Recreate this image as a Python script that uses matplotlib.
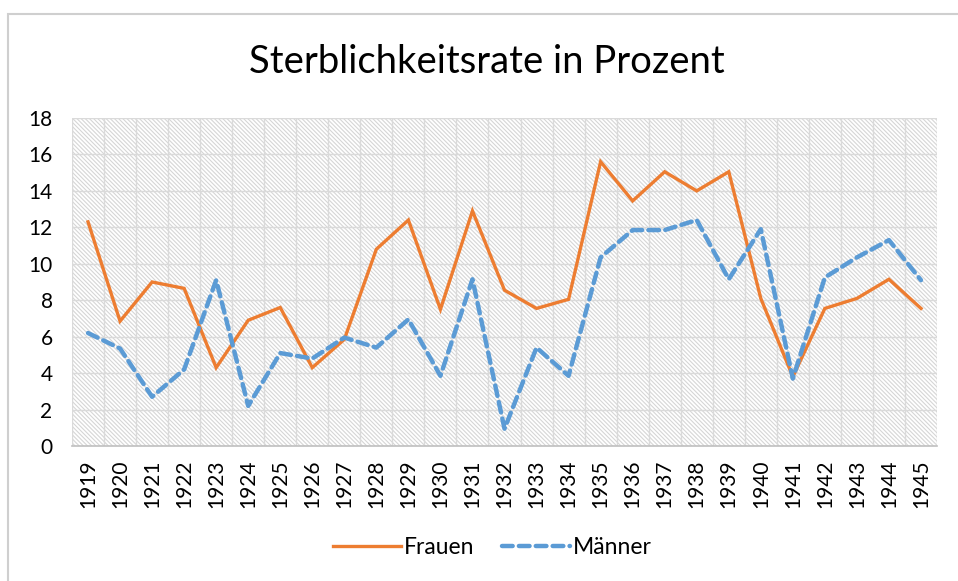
import matplotlib as mpl
import matplotlib.pyplot as plt
from matplotlib.patches import Rectangle

# Data
years = [1919, 1920, 1921, 1922, 1923, 1924, 1925, 1926, 1927, 1928, 1929,
         1930, 1931, 1932, 1933, 1934, 1935, 1936, 1937, 1938, 1939, 1940,
         1941, 1942, 1943, 1944, 1945]
frauen = [12.3, 6.85, 9.0, 8.65, 4.3, 6.9, 7.6, 4.3, 5.85, 10.8, 12.4,
          7.5, 12.9, 8.55, 7.55, 8.05, 15.6, 13.45, 15.05, 14.0, 15.05, 8.1,
          3.8, 7.55, 8.1, 9.15, 7.55]
maenner = [6.2, 5.35, 2.7, 4.2, 9.1, 2.2, 5.1, 4.8, 5.95, 5.4, 6.95,
           3.85, 9.15, 0.95, 5.4, 3.85, 10.35, 11.85, 11.85, 12.4, 9.15, 11.9,
           3.7, 9.25, 10.35, 11.3, 9.1]
y_ticks = [0, 2, 4, 6, 8, 10, 12, 14, 16, 18]

ORANGE = "#ED7D31"
BLUE = "#5B9BD5"
GRID = "#dadada"
TEXT = "#000000"

mpl.rcParams.update({
    "font.family": ["Lato", "DejaVu Sans"],
    "hatch.linewidth": 0.8,
    "hatch.color": "#d6d6d6",
})

fig = plt.figure(figsize=(9.58, 5.81), dpi=100)
ax = fig.add_axes([72 / 958, 1 - 446 / 581, (937 - 72) / 958, (446 - 118) / 581])

# chart border (runs past the right/bottom edge like the screenshot)
fig.patches.append(Rectangle((8 / 958, -0.1), 1.2, 1 - 13.5 / 581 + 0.1,
                             transform=fig.transFigure, fill=False,
                             edgecolor="#cfcfcf", linewidth=1.5))

x = list(range(len(years)))

# fine hatched plot area background
ax.add_patch(Rectangle((0, 0), 1, 1, transform=ax.transAxes, facecolor="white",
                       hatch="\\" * 8, edgecolor="#d6d6d6", linewidth=0, zorder=0))

for yv in y_ticks[1:]:
    ax.axhline(yv, color=GRID, linewidth=1.0, zorder=1)
for i in range(len(years) + 1):
    ax.axvline(i - 0.5, color=GRID, linewidth=1.0, zorder=1)

ax.plot(x, frauen, "-", color=ORANGE, linewidth=2.4, label="Frauen",
        solid_joinstyle="miter", zorder=3)
ax.plot(x, maenner, color=BLUE, linewidth=3.2, label="Männer",
        dashes=(2.4, 1.4), dash_capstyle="round", zorder=3)

ax.set_xlim(-0.5, len(years) - 0.5)
ax.set_ylim(0, 18)
ax.set_yticks(y_ticks)
ax.set_xticks(x)
ax.set_xticklabels([str(yr) for yr in years], rotation=90, fontsize=15)
ax.tick_params(axis="y", labelsize=15, length=0, pad=14)
ax.tick_params(axis="x", length=0, pad=10)

for side in ("top", "right", "left"):
    ax.spines[side].set_visible(False)
ax.spines["bottom"].set_color("#bfbfbf")
ax.spines["bottom"].set_linewidth(1.2)

fig.text(487 / 958, 1 - 62 / 581, "Sterblichkeitsrate in Prozent",
         ha="center", va="center", fontsize=27.5, color=TEXT)

fig.legend(loc="center", bbox_to_anchor=(492 / 958, 1 - 548 / 581), ncol=2,
           frameon=False, fontsize=16.5, handlelength=3.0, columnspacing=1.2,
           handletextpad=0.1)

fig.savefig("out.png", dpi=100)
